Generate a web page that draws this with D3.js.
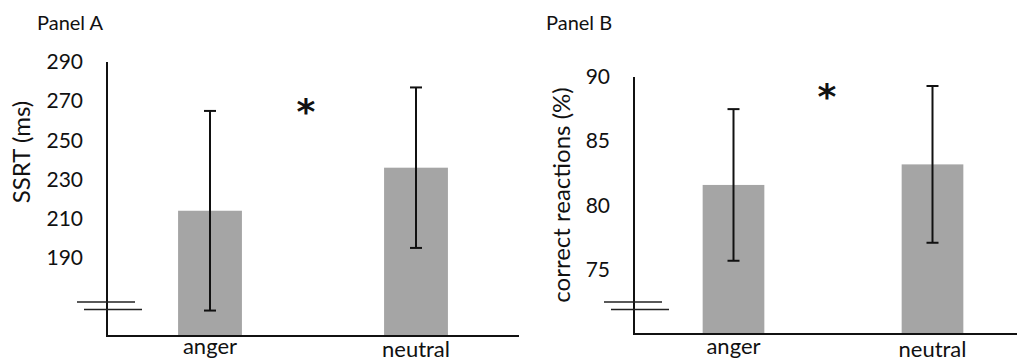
<!DOCTYPE html>
<html>
<head>
<meta charset="utf-8">
<script src="https://cdn.jsdelivr.net/npm/d3@7"></script>
<style>
	body { margin: 0; background: #fff; }
	text { font-family: Lato, "Open Sans", sans-serif; fill: #111; }
</style>
</head>
<body>
<div id="chart"></div>
<script>
// categories shared by both panels
const categories = ["anger", "neutral"];

// Panel A: stop-signal reaction time
const ssrtMeans = [214, 236];
const ssrtErrors = [51, 41];
const ssrtTicks = [190, 210, 230, 250, 270, 290];

// Panel B: correct reactions
const correctMeans = [81.6, 83.2];
const correctErrors = [5.9, 6.1];
const correctTicks = [75, 80, 85, 90];

const width = 1017, height = 361;

const svg = d3
	.select("#chart")
	.append("svg")
	.attr("width", width)
	.attr("height", height);

// one entry per panel, only layout lives here
const panels = [
	{
		title: "Panel A", titleX: 37,
		yLabel: "SSRT (ms)", yLabelX: 22, yLabelY: 152,
		means: ssrtMeans, errors: ssrtErrors, ticks: ssrtTicks,
		domain: [150, 290], yRange: [336, 62],
		xRange: [107, 519], axisEnd: 519,
		star: [306, 105],
	},
	{
		title: "Panel B", titleX: 546,
		yLabel: "correct reactions (%)", yLabelX: 562, yLabelY: 195,
		means: correctMeans, errors: correctErrors, ticks: correctTicks,
		domain: [70, 90], yRange: [334, 77],
		xRange: [634, 1032], axisEnd: 1017,
		star: [827, 90],
	},
];

panels.forEach((p) => {
	const g = svg.append("g");

	const x = d3
		.scaleBand()
		.domain(categories)
		.range(p.xRange)
		.paddingInner(0.69)
		.paddingOuter(0.345);

	const y = d3.scaleLinear().domain(p.domain).range(p.yRange);

	const x0 = p.xRange[0];
	const bottom = p.yRange[0];

	// title
	g.append("text")
		.attr("x", p.titleX)
		.attr("y", 30)
		.style("font-size", "20px")
		.text(p.title);

	// bars
	g.selectAll("rect.bar")
		.data(categories)
		.join("rect")
		.attr("class", "bar")
		.attr("x", (d) => x(d))
		.attr("width", x.bandwidth())
		.attr("y", (d, i) => y(p.means[i]))
		.attr("height", (d, i) => bottom - y(p.means[i]))
		.attr("fill", "#a5a5a5");

	// error bars
	const err = g.append("g")
		.attr("stroke", "#111")
		.attr("stroke-width", 2)
		.attr("fill", "none");
	categories.forEach((c, i) => {
		const cx = x(c) + x.bandwidth() / 2;
		const hi = y(p.means[i] + p.errors[i]);
		const lo = y(p.means[i] - p.errors[i]);
		err.append("line").attr("x1", cx).attr("x2", cx).attr("y1", hi).attr("y2", lo);
		err.append("line").attr("x1", cx - 6).attr("x2", cx + 6).attr("y1", hi).attr("y2", hi);
		err.append("line").attr("x1", cx - 6).attr("x2", cx + 6).attr("y1", lo).attr("y2", lo);
	});

	// y axis: labels only, the line is drawn below
	const yAxis = g.append("g")
		.attr("transform", `translate(${x0},0)`)
		.call(d3.axisLeft(y).tickValues(p.ticks).tickSize(0).tickPadding(24));
	yAxis.select(".domain").remove();
	yAxis.selectAll("text")
		.style("font-size", "21px")
		.style("font-family", "Lato, 'Open Sans', sans-serif")
		.attr("fill", "#111");

	// axis lines
	g.append("line")
		.attr("x1", x0).attr("x2", x0)
		.attr("y1", p.yRange[1]).attr("y2", bottom + 1)
		.attr("stroke", "#111").attr("stroke-width", 2);
	g.append("line")
		.attr("x1", x0 - 1).attr("x2", p.axisEnd)
		.attr("y1", bottom).attr("y2", bottom)
		.attr("stroke", "#111").attr("stroke-width", 2);

	// axis break marks
	const brk = g.append("g").attr("stroke", "#222").attr("stroke-width", 1.5);
	brk.append("line")
		.attr("x1", x0 - 30).attr("x2", x0 + 28)
		.attr("y1", 302).attr("y2", 302);
	brk.append("line")
		.attr("x1", x0 - 23).attr("x2", x0 + 35)
		.attr("y1", 309.5).attr("y2", 309.5);

	// category labels
	g.selectAll("text.cat")
		.data(categories)
		.join("text")
		.attr("class", "cat")
		.attr("x", (d) => x(d) + x.bandwidth() / 2)
		.attr("y", (d, i) => (i === 0 ? 354 : 357))
		.attr("text-anchor", "middle")
		.style("font-size", "22px")
		.text((d) => d);

	// y axis title
	g.append("text")
		.attr("transform", `translate(${p.yLabelX},${p.yLabelY}) rotate(-90)`)
		.attr("text-anchor", "middle")
		.attr("dy", "0.35em")
		.style("font-size", "24px")
		.text(p.yLabel);

	// significance marker
	g.append("text")
		.attr("x", p.star[0])
		.attr("y", p.star[1] + 19)
		.attr("text-anchor", "middle")
		.style("font-family", "'DejaVu Sans', sans-serif")
		.style("font-weight", "bold")
		.style("font-size", "36px")
		.text("*");
});
</script>
</body>
</html>
